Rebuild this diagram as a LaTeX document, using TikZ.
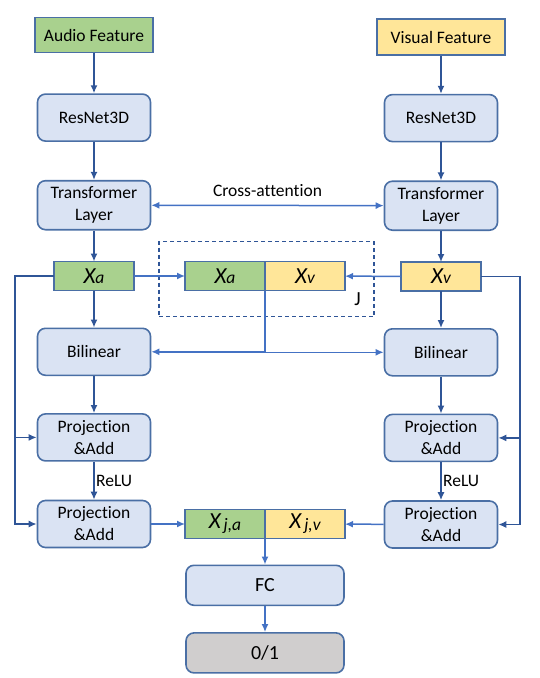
\documentclass[tikz,border=0pt]{standalone}
\usepackage{fontspec}
\setmainfont[Ligatures=NoCommon]{Carlito}
\usepackage{xcolor}
\usetikzlibrary{calc,arrows.meta,fit,positioning}

\definecolor{audiogreen}{HTML}{A9D18E}
\definecolor{visualyellow}{HTML}{FFE699}
\definecolor{blockblue}{HTML}{DAE3F3}
\definecolor{outgray}{HTML}{D0CECE}
\definecolor{rimblue}{HTML}{4A6FA5}
\definecolor{linkdark}{HTML}{2F5597}
\definecolor{linklight}{HTML}{4472C4}

\newcommand{\xsym}[1]{{\fontsize{23}{23}\selectfont\itshape X}{\itshape #1}}
\newcommand{\xjsym}[1]{{\fontsize{23}{23}\selectfont\itshape X}\,\raisebox{-2pt}{\itshape #1}}

\tikzset{
    block/.style={draw=rimblue,line width=1.6pt,fill=blockblue,rounded corners=8pt,
        minimum width=113pt,minimum height=47pt,align=center,
        font=\fontsize{17.5}{22}\selectfont},
    featbox/.style={draw=rimblue,line width=1.6pt,minimum height=35pt,
        font=\fontsize{17.5}{20}\selectfont},
    xbox/.style={draw=rimblue,line width=1.6pt,minimum width=80pt,minimum height=29pt,
        outer sep=0pt,font=\fontsize{17.5}{20}\selectfont},
    jframe/.style={draw=linkdark,line width=1.3pt,dash pattern=on 4pt off 3pt,inner sep=0pt},
    tip/.style={-{Latex[length=8pt,width=7pt]}},
    tips/.style={{Latex[length=8pt,width=7pt]}-{Latex[length=8pt,width=7pt]}},
    tag/.style={text=black,font=\fontsize{17.5}{20}\selectfont},
}

\begin{document}
\begin{tikzpicture}[x=1pt,y=-1pt]
        \useasboundingbox (0,0) rectangle (540,678);

        %audio branch
        \node[featbox,fill=audiogreen,minimum width=118pt] (audio) at (94,35) {Audio Feature};
        \node[block,below=40pt of audio] (resA) {ResNet3D};
        \node[block,below=38pt of resA,minimum height=49pt] (trA) {Transformer\\Layer};
        \node[xbox,fill=audiogreen,below=31pt of trA] (xa) {\xsym{a}};
        \node[block,below=37pt of xa] (bilA) {Bilinear};
        \node[block,below=37pt of bilA] (projA1) {Projection\\\&Add};
        \node[block,below=38pt of projA1] (projA2) {Projection\\\&Add};

        %visual branch
        \node[featbox,fill=visualyellow,minimum width=128pt,minimum height=36pt] (visual) at (441,37) {Visual Feature};
        \node[block,below=38pt of visual] (resV) {ResNet3D};
        \node[block,below=38pt of resV,minimum height=49pt] (trV) {Transformer\\Layer};
        \node[xbox,fill=visualyellow,below=31pt of trV] (xv) {\xsym{v}};
        \node[block,below=37pt of xv] (bilV) {Bilinear};
        \node[block,below=37pt of bilV] (projV1) {Projection\\\&Add};
        \node[block,below=38pt of projV1] (projV2) {Projection\\\&Add};

        %joint
        \node[xbox,fill=audiogreen,right=51pt of xa] (jxa) {\xsym{a}};
        \node[xbox,fill=visualyellow,right=0pt of jxa] (jxv) {\xsym{v}};
        \coordinate (jnw) at ($(jxa.north west)+(-26pt,20pt)$);
        \coordinate (jse) at ($(jxv.south east)+(29pt,-26pt)$);
        \node[jframe,fit=(jnw)(jse)] (jbox) {};
        \node[font=\fontsize{20}{20}\selectfont] (jtag) at ($(jbox.south east)+(-17pt,18pt)$) {J};

        %output
        \node[xbox,fill=audiogreen] (xja) at (jxa |- projA2) {\xjsym{j,a}};
        \node[xbox,fill=visualyellow,right=0pt of xja] (xjv) {\xjsym{j,v}};
        \node[block,minimum width=158pt,minimum height=40pt,font=\fontsize{20}{22}\selectfont,
            below=26pt of xja.south east] (fc) {FC};
        \node[block,fill=outgray,minimum width=158pt,minimum height=40pt,font=\fontsize{20}{22}\selectfont,
            below=26pt of fc] (out) {0/1};

        \coordinate (lbus) at ($(xa.west)+(-39pt,0pt)$);
        \coordinate (rbus) at ($(xv.east)+(39pt,0pt)$);

        %darks
        \begin{scope}[linkdark,line width=1.5pt]
            \draw[tip] (audio) -- (resA);
            \draw[tip] (resA) -- (trA);
            \draw[tip] (trA) -- (xa);
            \draw[tip] (xa) -- (bilA);
            \draw[tip] (bilA) -- (projA1);
            \draw[tip] (projA1) -- node[tag,right=-2pt] (reluA) {ReLU} (projA2);
            \draw[tip] (xa) -- (lbus) |- (projA1);
            \draw[tip] (lbus) |- (projA2);

            \draw[tip] (visual) -- (resV);
            \draw[tip] (resV) -- (trV);
            \draw[tip] (trV) -- (xv);
            \draw[tip] (xv) -- (bilV);
            \draw[tip] (bilV) -- (projV1);
            \draw[tip] (projV1) -- node[tag,right=-2pt] (reluV) {ReLU} (projV2);
            \draw[tip] (xv) -- (rbus) |- (projV1);
            \draw[tip] (rbus) |- (projV2);
        \end{scope}

        %lights
        \begin{scope}[linklight,line width=1.5pt]
            \draw[tips] (trA) -- node[tag,above=5pt] (cross) {Cross-attention} (trV);
            \draw[tip] (xa) -- (jxa);
            \draw[tip] (xv) -- (jxv);
            \draw[tip] (jxa.south east) |- (bilA);
            \draw[tip] (jxa.south east) |- (bilV);
            \draw[tip] (projA2) -- (xja);
            \draw[tip] (projV2) -- (xjv);
            \draw[tip] (xja.south east) -- (fc);
            \draw[tip] (fc) -- (out);
        \end{scope}
    \end{tikzpicture}
\end{document}
